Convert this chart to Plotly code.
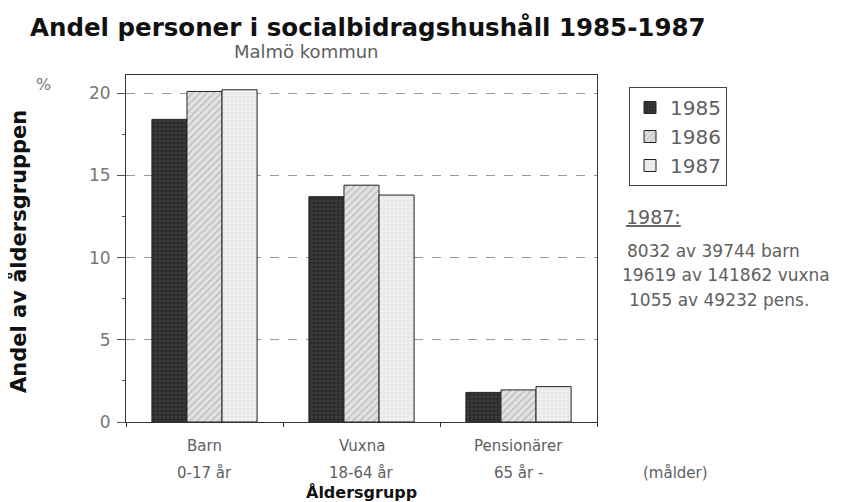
import plotly.graph_objects as go

# data
grupper = ["Barn", "Vuxna", "Pensionärer"]
rad1 = ["Barn", "Vuxna", "Pensionärer"]
rad2 = ["0-17 år", "18-64 år", "65 år -"]
ar = ["1985", "1986", "1987"]
andel_1985 = [18.4, 13.7, 1.8]
andel_1986 = [20.1, 14.4, 1.95]
andel_1987 = [20.2, 13.8, 2.15]
noter = ["8032 av 39744 barn", "19619 av 141862 vuxna", "1055 av 49232 pens."]

# plotytan i sidans pixlar (sidan har 8 px marginal)
X0, X1, Y0, Y1 = 126, 597, 75, 422


def px(x):
    return (x - X0) / (X1 - X0)


def py(y):
    return (Y1 - y) / (Y1 - Y0)


stil = {
    "1985": dict(color="#2e2e2e", pattern=dict(shape=".", fgcolor="#555555", size=4, solidity=0.25)),
    "1986": dict(color="#e2e2e2", pattern=dict(shape="/", fgcolor="#9a9a9a", size=5, solidity=0.3)),
    "1987": dict(color="#efefef", pattern=dict(shape=".", fgcolor="#cfcfcf", size=4, solidity=0.2)),
}

fig = go.Figure()
for namn, varden in zip(ar, [andel_1985, andel_1986, andel_1987]):
    fig.add_trace(go.Bar(
        x=grupper, y=varden, name=namn,
        marker=dict(line=dict(color="#222222", width=1), **stil[namn]),
    ))

gra = "#606060"
W, H = 834, 494
fig.update_layout(
    width=W, height=H,
    margin=dict(l=X0 - 8, r=W - (X1 - 8), t=Y0 - 8, b=H - (Y1 - 8)),
    paper_bgcolor="white", plot_bgcolor="white",
    barmode="group", bargap=0.33, bargroupgap=0,
    font=dict(family="DejaVu Sans", color=gra),
    title=dict(text="Andel personer i socialbidragshushåll 1985-1987",
               font=dict(size=24.5, color="#111111", family="DejaVu Sans", weight="bold"),
               xref="container", yref="container",
               x=(30 - 8) / W, xanchor="left", y=1 - (27 - 8) / H, yanchor="middle"),
    legend=dict(x=px(629), y=py(87), xanchor="left", yanchor="top",
                bordercolor="#444444", borderwidth=1,
                font=dict(size=20, color=gra), tracegroupgap=0),
    showlegend=True,
)

fig.update_xaxes(
    showticklabels=False, tickson="boundaries", ticks="outside", ticklen=4,
    tickcolor="#333333", showline=True, linecolor="#333333", mirror=True,
    showgrid=False, range=[-0.5, 2.5],
)
fig.update_yaxes(
    range=[0, 21.1], dtick=5, ticks="outside", ticklen=8, tickcolor="#555555",
    ticklabelstandoff=3, tickfont=dict(size=17, color="#777777"),
    showline=True, linecolor="#333333", mirror=True,
    showgrid=True, gridcolor="#9a9a9a", griddash="dash", gridwidth=1,
    zeroline=False,
    minor=dict(dtick=2.5, ticks="outside", ticklen=3, tickcolor="#555555", showgrid=False),
)

# kategorietiketter under axeln, två rader
for i in range(len(grupper)):
    fig.add_annotation(text=rad1[i], x=i, y=py(446), xref="x", yref="paper",
                       xanchor="center", yanchor="middle", showarrow=False,
                       font=dict(size=15, color=gra))
    fig.add_annotation(text=rad2[i], x=i, y=py(473), xref="x", yref="paper",
                       xanchor="center", yanchor="middle", showarrow=False,
                       font=dict(size=15, color=gra))
fig.add_annotation(text="(målder)", x=px(675), y=py(473), xref="paper", yref="paper",
                   xanchor="center", yanchor="middle", showarrow=False,
                   font=dict(size=15, color=gra))
fig.add_annotation(text="Åldersgrupp", x=0.5, y=py(492), xref="paper", yref="paper",
                   xanchor="center", yanchor="middle", showarrow=False,
                   font=dict(size=16, color="#111111", weight="bold"))

# axeltitel och enhet
fig.add_annotation(text="Andel av åldersgruppen", x=px(18), y=py(252), xref="paper", yref="paper",
                   xanchor="center", yanchor="middle", textangle=-90, showarrow=False,
                   font=dict(size=21, color="#111111", weight="bold"))
fig.add_annotation(text="%", x=px(43), y=py(84), xref="paper", yref="paper",
                   xanchor="center", yanchor="middle", showarrow=False,
                   font=dict(size=16, color="#777777"))
fig.add_annotation(text="Malmö kommun", x=px(306), y=py(52), xref="paper", yref="paper",
                   xanchor="center", yanchor="middle", showarrow=False,
                   font=dict(size=18, color=gra))

# 1987-noter till höger
fig.add_annotation(text="<u>1987:</u>", x=px(624), y=py(217), xref="paper", yref="paper",
                   xanchor="left", yanchor="middle", showarrow=False,
                   font=dict(size=19, color=gra))
for txt, x_start, y_rad in zip(noter, [625, 620, 627], [251, 275, 300]):
    fig.add_annotation(text=txt, x=px(x_start), y=py(y_rad),
                       xref="paper", yref="paper", xanchor="left", yanchor="middle",
                       showarrow=False, font=dict(size=17, color=gra))

fig.write_html("out.html")
